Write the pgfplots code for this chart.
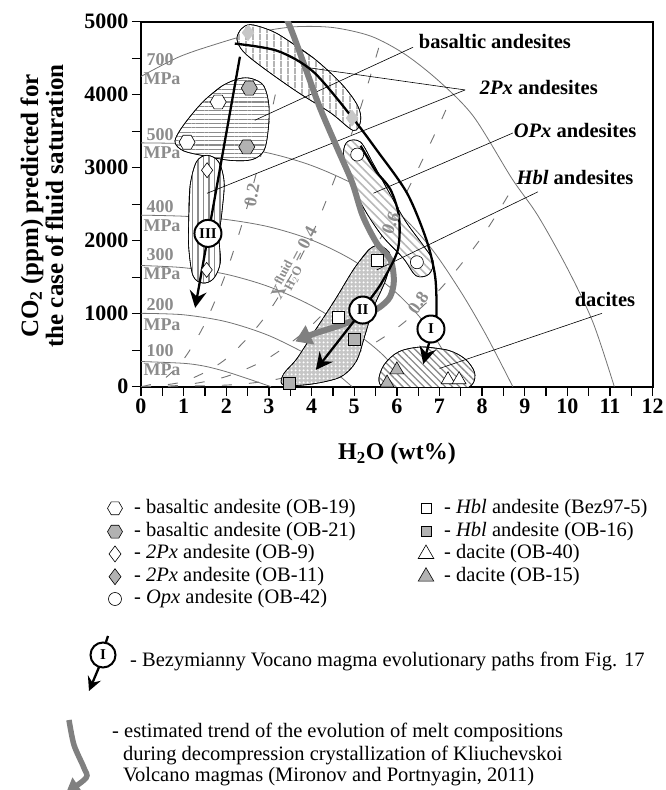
\documentclass[border=0pt]{standalone}
\usepackage{amsmath}
\usepackage{pgfplots}
\pgfplotsset{compat=1.18}
\usepackage{fontspec}
\setmainfont{Liberation Serif}
\usetikzlibrary{patterns,patterns.meta,arrows.meta}

\definecolor{isogray}{gray}{0.45}
\definecolor{labgray}{gray}{0.55}
\definecolor{symgray}{gray}{0.70}
\definecolor{lightsym}{gray}{0.78}
\definecolor{trendgray}{gray}{0.50}
\definecolor{hatchgray}{gray}{0.55}

% hexagonal plot mark (flat top and bottom)
\pgfdeclareplotmark{hexagon}{%
  \pgfpathmoveto{\pgfqpointpolar{0}{\pgfplotmarksize}}%
  \pgfpathlineto{\pgfqpointpolar{60}{\pgfplotmarksize}}%
  \pgfpathlineto{\pgfqpointpolar{120}{\pgfplotmarksize}}%
  \pgfpathlineto{\pgfqpointpolar{180}{\pgfplotmarksize}}%
  \pgfpathlineto{\pgfqpointpolar{240}{\pgfplotmarksize}}%
  \pgfpathlineto{\pgfqpointpolar{300}{\pgfplotmarksize}}%
  \pgfpathclose
  \pgfusepathqfillstroke}

\newcommand\fs[1]{\fontsize{#1}{#1}\selectfont}

\pgfplotsset{
  region/.style={draw=black, line width=0.6pt, fill=white, smooth, tension=0.55},
  isobar/.style={isogray, line width=0.8pt, smooth},
  isopleth/.style={isogray, line width=0.9pt, smooth, dash pattern=on 10pt off 17pt},
  evo/.style={black, line width=2.3pt, smooth},
  leader/.style={black, line width=0.6pt},
  trend/.style={trendgray, line width=6pt, smooth},
  hexW/.style={only marks, mark=hexagon, mark size=8pt, mark options={fill=white, draw=black, line width=0.6pt}},
  hexG/.style={only marks, mark=hexagon, mark size=8pt, mark options={fill=symgray, draw=black, line width=0.6pt}},
  diaW/.style={only marks, mark=diamond*, mark size=7.5pt, mark options={fill=white, draw=black, line width=0.6pt}},
  diaG/.style={only marks, mark=diamond*, mark size=7.5pt, mark options={fill=symgray, draw=black, line width=0.6pt}},
  cirW/.style={only marks, mark=*, mark size=6.5pt, mark options={fill=white, draw=black, line width=0.6pt}},
  sqW/.style={only marks, mark=square*, mark size=6pt, mark options={fill=white, draw=black, line width=0.6pt}},
  sqG/.style={only marks, mark=square*, mark size=6pt, mark options={fill=symgray, draw=black, line width=0.6pt}},
  triW/.style={only marks, mark=triangle*, mark size=8pt, mark options={fill=white, draw=black, line width=0.6pt}},
  triG/.style={only marks, mark=triangle*, mark size=8pt, mark options={fill=symgray, draw=black, line width=0.6pt}},
}
\tikzset{
  stage/.style={circle, draw=black, line width=2pt, fill=white, minimum size=27pt,
    inner sep=0pt, font=\bfseries\fs{15}},
  isolab/.style={text=labgray, font=\bfseries\fs{18}, inner sep=1pt},
}

\begin{document}
\begin{tikzpicture}
\useasboundingbox (0,0) rectangle (665pt,790pt);

\begin{axis}[
  name=main,
  at={(141pt,403.3pt)}, anchor=south west,
  scale only axis, width=511.7pt, height=365pt,
  xmin=0, xmax=12, ymin=0, ymax=5000,
  axis line style={line width=2pt},
  xtick={0,1,...,12}, minor xtick={0.5,1.5,...,11.5},
  ytick={0,1000,...,5000}, minor ytick={500,1500,...,4500},
  tick align=outside, tick pos=left,
  major tick length=9pt, minor tick length=9pt,
  every tick/.style={black, line width=1.3pt},
  scaled ticks=false,
  /pgf/number format/assume math mode=true,
  /pgf/number format/1000 sep={},
  ticklabel style={font=\bfseries\fs{22}},
]

% isobars (100, 200, 300, 400, 500, 700 MPa)
\addplot[isobar] coordinates {(0,345) (1,320) (1.5,280) (2,205) (2.5,110) (3.05,0)};
\addplot[isobar] coordinates {(0,1005) (1,985) (2,890) (3,700) (4,410) (4.5,220) (4.95,0)};
\addplot[isobar] coordinates {(0,1660) (1,1630) (2,1540) (3,1370) (4,1110) (5,750) (5.7,420) (6.3,0)};
\addplot[isobar] coordinates {(0,2350) (1,2335) (2,2290) (3,2190) (4,2010) (5,1720) (6,1280) (6.8,760) (7.55,0)};
\addplot[isobar] coordinates {(0,3340) (1,3330) (2,3290) (3,3200) (4,3030) (5,2770) (6,2400) (6.8,1900) (7.5,1300) (8.1,700) (8.72,0)};
\addplot[isobar] coordinates {(0,4250) (0.9,4520) (1.8,4700) (2.7,4850) (3.6,4930) (4.5,4920) (5.4,4800) (6.2,4550) (7.0,4180) (7.8,3700) (8.7,2850) (9.3,2350) (10.0,1620) (10.6,880) (11.1,0)};

% fluid composition isopleths X_H2O = 0.2, 0.4, 0.6, 0.8
\addplot[isopleth] coordinates {(0,0) (0.5,90) (1,376) (1.5,867) (2,1568) (2.5,2485) (3,3613) (3.47,4873)};
\addplot[isopleth] coordinates {(0,0) (1,71) (2,384) (3,1030) (4,2072) (5,3564) (5.6,4693)};
\addplot[isopleth] coordinates {(0,0) (1,23) (2,139) (3,397) (4,840) (5,1500) (6,2409) (7,3597) (7.3,4013)};
\addplot[isopleth] coordinates {(0,0) (2,22) (3,83) (4,213) (5,442) (6,802) (7,1328) (8,2055) (8.8,2806)};

% sample fields
% basaltic andesites
\addplot[region, postaction={pattern={Lines[angle=0,distance=4.3pt,line width=1.1pt]}, pattern color=hatchgray}]
  coordinates {(1.5,3930) (1.9,4120) (2.3,4220) (2.6,4220) (2.88,4120) (3.0,3850) (2.98,3500) (2.88,3230) (2.6,3110) (2.1,3100) (1.5,3160) (1.0,3230) (0.8,3340) (0.88,3480) (1.15,3700) (1.5,3930) (1.9,4120)};
% 2Px andesites (OB-9)
\addplot[region, postaction={pattern={Lines[angle=90,distance=5.5pt,line width=1.2pt]}, pattern color=hatchgray}]
  coordinates {(1.12,2300) (1.15,2750) (1.3,3080) (1.55,3170) (1.82,3080) (1.95,2800) (1.9,2400) (1.83,2050) (1.86,1700) (1.7,1480) (1.45,1420) (1.22,1520) (1.12,1900) (1.12,2300) (1.15,2750)};
% 2Px andesites (OB-11)
\addplot[region, postaction={pattern={Lines[angle=90,distance=6.5pt,line width=1.4pt]}, pattern color=hatchgray}]
  coordinates {(3.3,4800) (4.05,4500) (4.7,4150) (5.08,3850) (5.15,3640) (4.98,3510) (4.45,3750) (3.66,4040) (2.86,4370) (2.4,4590) (2.25,4760) (2.35,4900) (2.56,4960) (2.95,4900) (3.3,4800) (4.05,4500)};
% Opx andesites
\addplot[region, postaction={pattern={Lines[angle=-45,distance=6pt,line width=1.6pt]}, pattern color=gray!55}]
  coordinates {(5.45,3050) (5.8,2680) (6.2,2270) (6.6,1950) (6.85,1720) (6.75,1540) (6.45,1520) (6.15,1760) (5.65,2070) (5.2,2470) (4.88,2880) (4.75,3200) (4.85,3360) (5.15,3350) (5.45,3050) (5.8,2680)};
% Hbl andesites
\addplot[region, fill=gray!45, postaction={pattern={Dots[distance=4pt,radius=1.3pt]}, pattern color=white}]
  coordinates {(5.0,1620) (5.35,1880) (5.6,1930) (5.85,1800) (5.75,1480) (5.45,1080) (5.25,700) (5.05,350) (4.7,140) (4.15,50) (3.6,15) (3.3,40) (3.35,180) (3.65,380) (4.05,740) (4.55,1190) (5.0,1620) (5.35,1880)};
% dacites
\addplot[region, postaction={pattern={Lines[angle=-45,distance=5pt,line width=1.3pt]}, pattern color=hatchgray}]
  coordinates {(6.6,545) (7.2,500) (7.6,380) (7.82,200) (7.78,40) (7.5,-40) (6.7,-60) (5.8,-40) (5.58,80) (5.7,300) (6.05,480) (6.6,545) (7.2,500)};

% leaders from the field names
\addplot[leader] coordinates {(6.38,4650) (2.67,3650)};
\addplot[leader] coordinates {(7.6,4065) (3.8,4380)};
\addplot[leader] coordinates {(7.6,4065) (1.55,2650)};
\addplot[leader] coordinates {(8.72,3475) (5.45,2650)};
\addplot[leader] coordinates {(9.31,2670) (5.53,1600)};
\addplot[leader] coordinates {(10.81,1005) (7.0,250)};

% Kliuchevskoi melt trend
\addplot[trend, -{Triangle[length=16pt,width=20pt]}]
  coordinates {(3.40,5060) (3.57,4820) (3.89,4310) (4.2,3815) (4.6,3270) (4.95,2800) (5.2,2340) (5.53,1965) (5.85,1740) (5.93,1450) (5.84,1230) (5.6,1090) (5.2,960) (4.67,840) (4.03,720) (3.62,620)};

% Bezymianny evolutionary paths
\addplot[evo] coordinates {(2.2,4700) (3.2,4600) (4.04,4315) (4.95,3690) (5.53,3240) (6.24,2650) (6.7,2000) (6.9,1500) (6.93,1000) (6.88,850)};
\addplot[black, line width=2.3pt, -{Stealth[length=17pt,width=17pt,inset=6pt]}] coordinates {(6.78,650) (6.62,310)};
\addplot[evo] coordinates {(5.15,3300) (5.5,2960) (5.85,2700) (6.05,2330) (6.02,1870) (5.65,1430) (5.35,1180) (5.2,1050)};
\addplot[black, line width=2.3pt, -{Stealth[length=17pt,width=17pt,inset=6pt]}] coordinates {(5.2,1050) (4.1,230)};
\addplot[black, line width=2.3pt, -{Stealth[length=17pt,width=17pt,inset=6pt]}] coordinates {(2.32,4520) (1.27,1080)};

% samples
\addplot[hexW] coordinates {(1.81,3900) (1.08,3350)};
\addplot[hexG] coordinates {(2.54,4090) (2.48,3285)};
\addplot[diaW] coordinates {(1.55,2965) (1.54,1600)};
\addplot[only marks, mark=diamond*, mark size=8pt, mark options={fill=lightsym, draw=lightsym}] coordinates {(2.51,4850) (4.95,3680)};
\addplot[cirW] coordinates {(5.07,3180) (6.47,1705)};
\addplot[sqW] coordinates {(5.53,1730) (4.63,955)};
\addplot[sqG] coordinates {(5.0,650) (3.48,45)};
\addplot[triW] coordinates {(7.2,95) (7.46,95)};
\addplot[triG] coordinates {(6.0,230) (5.77,50)};

% path numbers
\node[stage] at (axis cs:6.8,790) {I};
\node[stage] at (axis cs:5.2,1050) {II};
\node[stage] at (axis cs:1.57,2100) {III};

% isopleth labels
\node[isolab, rotate=80] at (axis cs:2.6,2625) {0.2};
\node[isolab, rotate=62] at (axis cs:3.62,1690) {X$^{\text{fluid}}_{\text{H}_{2}\text{O}}$\,= 0.4};
\node[isolab, rotate=68] at (axis cs:5.86,2240) {0.6};
\node[isolab, rotate=55] at (axis cs:6.5,1150) {0.8};

% field names
\node[font=\bfseries\fs{20.5}] at (axis cs:8.30,4723) {basaltic andesites};
\node[font=\bfseries\fs{20.5}] at (axis cs:9.33,4105) {\textit{2Px} andesites};
\node[font=\bfseries\fs{20.5}] at (axis cs:10.18,3516) {\textit{OPx} andesites};
\node[font=\bfseries\fs{20.5}] at (axis cs:10.18,2860) {\textit{Hbl} andesites};
\node[font=\bfseries\fs{20.5}] at (axis cs:10.88,1188) {dacites};
\end{axis}

% page-sized frame for the axis titles and the key
\begin{axis}[
  at={(0pt,0pt)}, anchor=south west,
  scale only axis, width=665pt, height=790pt,
  xmin=0, xmax=665, ymin=0, ymax=790,
  hide axis, clip=false,
]
% axis titles
\node[rotate=90, align=center, font=\bfseries\fontsize{25}{25}\selectfont] at (axis cs:42,584)
  {CO\textsubscript{2} (ppm) predicted for\\the case of fluid saturation};
\node[font=\bfseries\fs{24}] at (axis cs:397,336) {H\textsubscript{2}O (wt\%)};

% isobar labels
\node[isolab] at (axis cs:160,730) {700};
\node[isolab] at (axis cs:162,711) {MPa};
\node[isolab] at (axis cs:160,655) {500};
\node[isolab] at (axis cs:162,637) {MPa};
\node[isolab] at (axis cs:160,583) {400};
\node[isolab] at (axis cs:162,564) {MPa};
\node[isolab] at (axis cs:160,535) {300};
\node[isolab] at (axis cs:162,516) {MPa};
\node[isolab] at (axis cs:160,485) {200};
\node[isolab] at (axis cs:162,465) {MPa};
\node[isolab] at (axis cs:160,439) {100};
\node[isolab] at (axis cs:162,420) {MPa};

% sample key
\addplot[hexW, mark size=7.5pt] coordinates {(115,281.7)};
\addplot[hexG, mark size=7.5pt] coordinates {(115,258.3)};
\addplot[diaW, mark size=8pt] coordinates {(115,236)};
\addplot[diaG, mark size=8pt] coordinates {(115,213.3)};
\addplot[cirW, mark size=6.5pt] coordinates {(115,191)};
\addplot[sqW, mark size=5pt] coordinates {(426,281.7)};
\addplot[sqG, mark size=5pt] coordinates {(426,258.3)};
\addplot[triW, mark size=9pt] coordinates {(426,236)};
\addplot[triG, mark size=9pt] coordinates {(426,213.3)};
\begin{scope}[every node/.style={anchor=west, font=\fs{20.5}, inner sep=0pt}]
\node at (axis cs:134,281.7) {- basaltic andesite (OB-19)};
\node at (axis cs:134,258.3) {- basaltic andesite (OB-21)};
\node at (axis cs:134,236) {- \textit{2Px} andesite (OB-9)};
\node at (axis cs:134,213.3) {- \textit{2Px} andesite (OB-11)};
\node at (axis cs:134,191) {- \textit{Opx} andesite (OB-42)};
\node at (axis cs:444,281.7) {- \textit{Hbl} andesite (Bez97-5)};
\node at (axis cs:444,258.3) {- \textit{Hbl} andesite (OB-16)};
\node at (axis cs:444,236) {- dacite (OB-40)};
\node at (axis cs:444,213.3) {- dacite (OB-15)};
\node at (axis cs:130,128.3) {- Bezymianny Vocano magma evolutionary paths from Fig. 17};
\node at (axis cs:112,58) {- estimated trend of the evolution of melt compositions};
\node at (axis cs:122.8,35) {during decompression crystallization of Kliuchevskoi};
\node at (axis cs:122.8,13) {Volcano magmas (Mironov and Portnyagin, 2011)};
\end{scope}

% path key
\addplot[black, line width=2.3pt] coordinates {(108,154) (105,145)};
\addplot[black, line width=2.3pt, -{Stealth[length=14pt,width=14pt,inset=5pt]}] coordinates {(99.5,124) (89,99)};
\node[stage, minimum size=25pt] at (axis cs:103,135) {I};

% trend key
\addplot[trend, line width=5.5pt, -{Triangle[length=14pt,width=18pt]}] coordinates {(69,70) (74,45) (84,22) (86,12) (66,-3)};
\end{axis}
\end{tikzpicture}
\end{document}
